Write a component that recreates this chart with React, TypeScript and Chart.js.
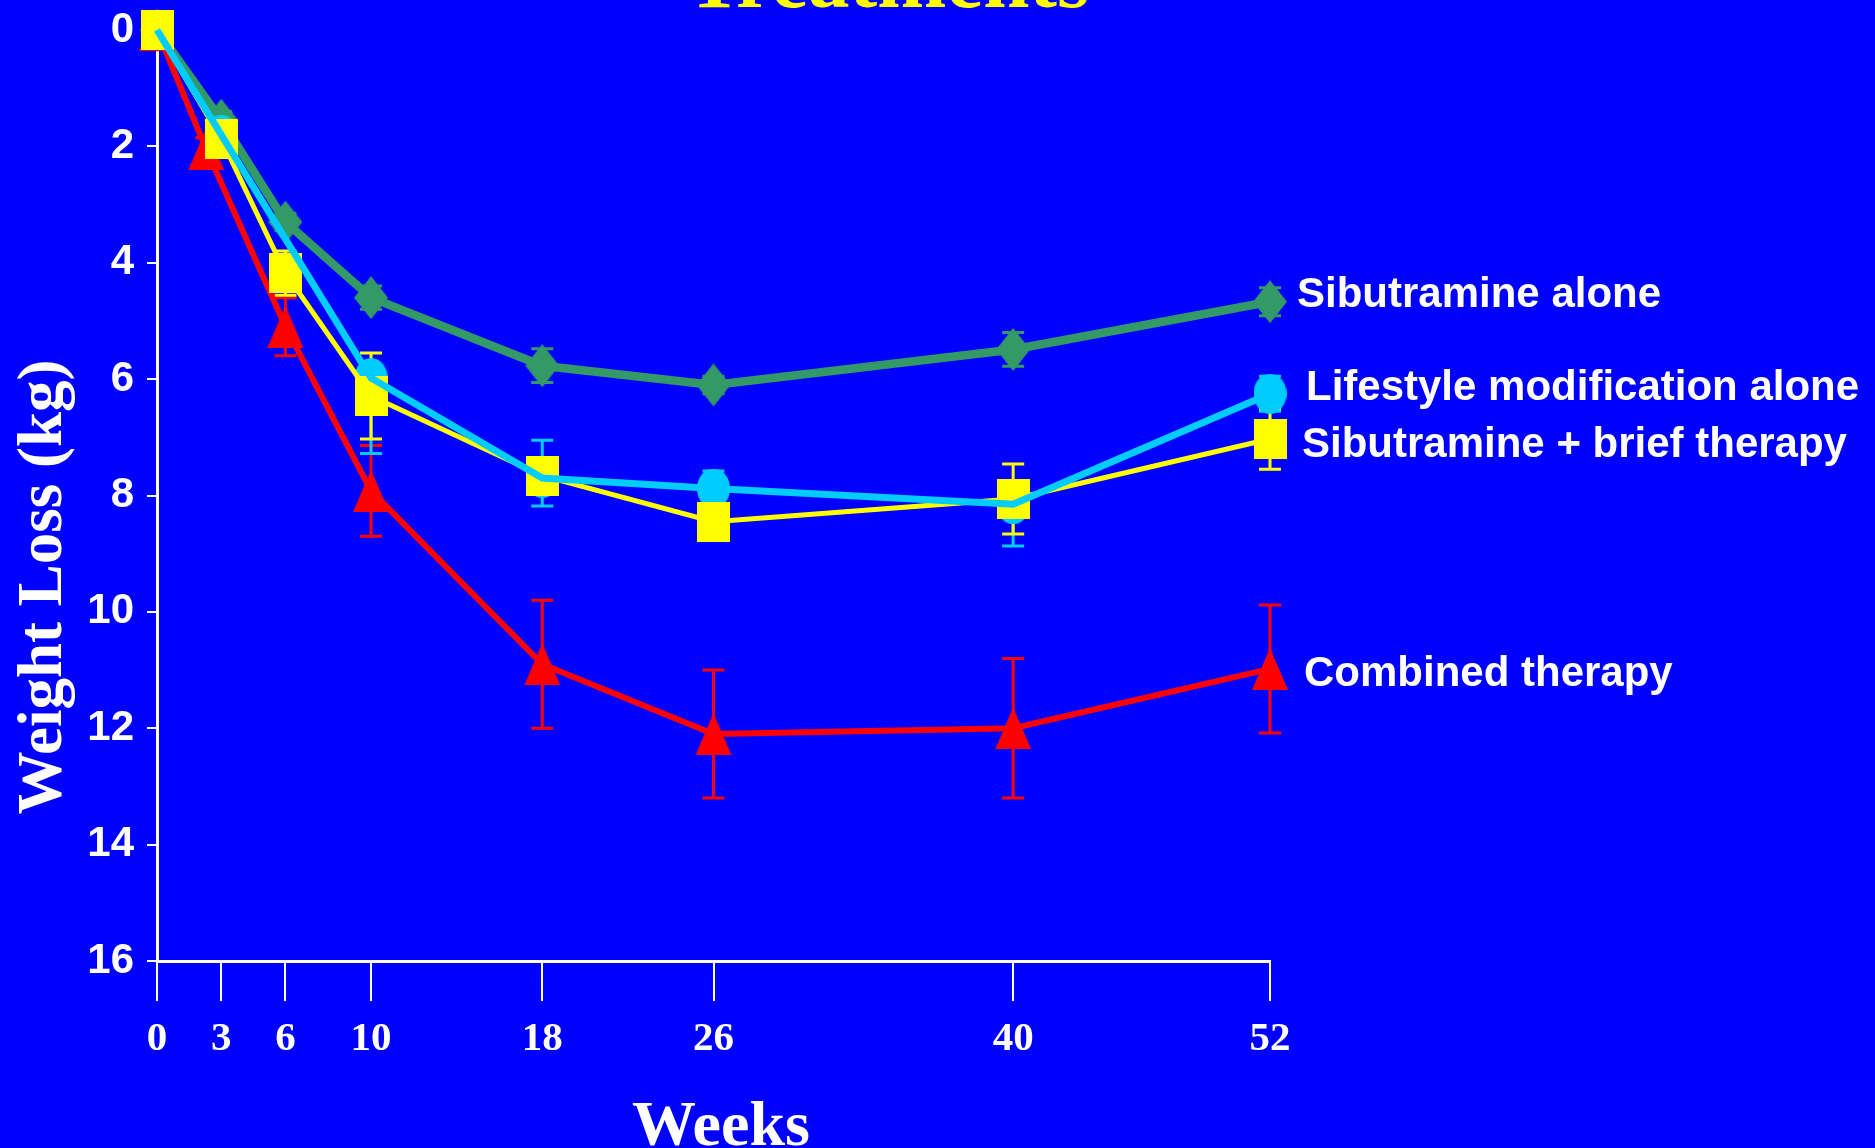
import React, { useEffect, useRef } from 'react';
import { Chart, registerables } from 'chart.js';

Chart.register(...registerables);

// ---- data ----
const weeks = [0, 3, 6, 10, 18, 26, 40, 52];
const combinedWeeks = [0, 2.3, 6, 10, 18, 26, 40, 52];
const yMin = 0;
const yMax = 16;
const yStep = 2;

const sibutramineAlone = [0, 1.55, 3.3, 4.6, 5.77, 6.1, 5.49, 4.67];
const sibutramineAloneErr = [0, 0.15, 0.15, 0.2, 0.29, 0.15, 0.29, 0.24];

const lifestyleAlone: (number | null)[] = [0, 1.8, null, 5.98, 7.7, 7.88, 8.15, 6.25];
const lifestyleAloneErrUp = [0, 0.2, 0, 0.2, 0.65, 0.3, 0.3, 0.3];
const lifestyleAloneErrDown = [0, 0.2, 0, 1.3, 0.48, 0.3, 0.72, 0.3];

const sibutramineBrief = [0, 1.87, 4.18, 6.29, 7.66, 8.45, 8.06, 7.03];
const sibutramineBriefErr = [0, 0.2, 0.38, 0.74, 0.3, 0.3, 0.6, 0.52];

const combinedTherapy = [0, 2.05, 5.1, 7.92, 10.9, 12.1, 12.0, 10.98];
const combinedTherapyErr = [0, 0.2, 0.5, 0.78, 1.1, 1.1, 1.2, 1.1];

const seriesNames = [
  'Sibutramine alone',
  'Lifestyle modification alone',
  'Sibutramine + brief therapy',
  'Combined therapy',
];

const titleText = 'Treatments';
const xTitle = 'Weeks';
const yTitle = 'Weight Loss (kg)';

// ---- styles ----
const BLUE = '#0000FF';
const GREEN = '#339966';
const CYAN = '#00CCFF';
const YELLOW = '#FFFF00';
const RED = '#FF0000';
const WHITE = '#FFFFFF';

function makeMarker(shape: string, color: string, w: number, h: number) {
  const c = document.createElement('canvas');
  c.width = w;
  c.height = h;
  const ctx = c.getContext('2d')!;
  ctx.fillStyle = color;
  ctx.beginPath();
  if (shape === 'rect') {
    ctx.rect(0, 0, w, h);
  } else if (shape === 'ellipse') {
    ctx.ellipse(w / 2, h / 2, w / 2, h / 2, 0, 0, Math.PI * 2);
  } else if (shape === 'diamond') {
    ctx.moveTo(w / 2, 0);
    ctx.lineTo(w, h / 2);
    ctx.lineTo(w / 2, h);
    ctx.lineTo(0, h / 2);
    ctx.closePath();
  } else if (shape === 'triangle') {
    ctx.moveTo(w / 2, 0);
    ctx.lineTo(w, h);
    ctx.lineTo(0, h);
    ctx.closePath();
  }
  ctx.fill();
  return c;
}

const toPoints = (xs: number[], ys: (number | null)[]) => xs.map((x, i) => ({ x, y: ys[i] }));

export default function App() {
  const ref = useRef<HTMLCanvasElement | null>(null);

  useEffect(() => {
    if (!ref.current) return;

    const errSeries = [
      { xs: weeks, ys: sibutramineAlone, up: sibutramineAloneErr, down: sibutramineAloneErr, color: GREEN },
      { xs: combinedWeeks, ys: combinedTherapy, up: combinedTherapyErr, down: combinedTherapyErr, color: RED },
      { xs: weeks, ys: lifestyleAlone, up: lifestyleAloneErrUp, down: lifestyleAloneErrDown, color: CYAN },
      { xs: weeks, ys: sibutramineBrief, up: sibutramineBriefErr, down: sibutramineBriefErr, color: YELLOW },
    ];

    const errorBarPlugin = {
      id: 'errorBars',
      beforeDatasetsDraw(chart: any) {
        const { ctx, scales } = chart;
        const xs = scales.x;
        const ys = scales.y;
        ctx.save();
        errSeries.forEach((s) => {
          ctx.strokeStyle = s.color;
          ctx.lineWidth = 3;
          s.xs.forEach((xv, i) => {
            const v = s.ys[i];
            const eu = s.up[i];
            const ed = s.down[i];
            if (v == null || (!eu && !ed)) return;
            const px = xs.getPixelForValue(xv);
            const top = ys.getPixelForValue(v - eu);
            const bot = ys.getPixelForValue(v + ed);
            ctx.beginPath();
            ctx.moveTo(px, top);
            ctx.lineTo(px, bot);
            ctx.moveTo(px - 11, top);
            ctx.lineTo(px + 11, top);
            ctx.moveTo(px - 11, bot);
            ctx.lineTo(px + 11, bot);
            ctx.stroke();
          });
        });
        ctx.restore();
      },
    };

    const labelOffsets = [
      { dx: 27, dy: 5 },
      { dx: 36, dy: 6 },
      { dx: 32, dy: 18 },
      { dx: 34, dy: 17 },
    ];
    const lastValues = [
      sibutramineAlone[sibutramineAlone.length - 1],
      lifestyleAlone[lifestyleAlone.length - 1] as number,
      sibutramineBrief[sibutramineBrief.length - 1],
      combinedTherapy[combinedTherapy.length - 1],
    ];

    const textPlugin = {
      id: 'texts',
      beforeDraw(chart: any) {
        const { ctx, width, height } = chart;
        ctx.save();
        ctx.fillStyle = BLUE;
        ctx.fillRect(0, 0, width, height);
        ctx.restore();
      },
      afterDraw(chart: any) {
        const { ctx, scales, chartArea } = chart;
        const xs = scales.x;
        const ys = scales.y;
        ctx.save();
        // main title (cut off at the top)
        ctx.fillStyle = YELLOW;
        ctx.font = 'bold 83px "Liberation Serif", "Times New Roman", serif';
        ctx.textAlign = 'center';
        ctx.textBaseline = 'alphabetic';
        ctx.fillText(titleText, 888, 7);

        // x title
        ctx.fillStyle = WHITE;
        ctx.font = 'bold 64px "Liberation Serif", "Times New Roman", serif';
        ctx.fillText(xTitle, 721, chartArea.bottom + 184);

        // y title
        ctx.save();
        ctx.translate(45, 587);
        ctx.rotate(-Math.PI / 2);
        ctx.font = 'bold 63px "Liberation Serif", "Times New Roman", serif';
        ctx.textBaseline = 'middle';
        ctx.fillText(yTitle, 0, 0);
        ctx.restore();

        // series labels
        ctx.font = 'bold 42px "Liberation Sans", Arial, sans-serif';
        ctx.textAlign = 'left';
        ctx.textBaseline = 'alphabetic';
        seriesNames.forEach((name, i) => {
          const px = xs.getPixelForValue(weeks[weeks.length - 1]) + labelOffsets[i].dx;
          const py = ys.getPixelForValue(lastValues[i]) + labelOffsets[i].dy;
          ctx.fillText(name, px, py);
        });
        ctx.restore();
      },
    };

    const square = makeMarker('rect', YELLOW, 33, 40);
    const circle = makeMarker('ellipse', CYAN, 33, 40);
    const diamond = makeMarker('diamond', GREEN, 34, 43);
    const triangle = makeMarker('triangle', RED, 36, 42);

    const chart = new Chart(ref.current, {
      type: 'line',
      data: {
        datasets: [
          {
            label: seriesNames[1] + ' line',
            data: toPoints(weeks, lifestyleAlone),
            borderColor: CYAN,
            borderWidth: 7,
            pointRadius: 0,
            spanGaps: true,
            fill: false,
            clip: false as any,
          },
          {
            label: seriesNames[2],
            data: toPoints(weeks, sibutramineBrief),
            borderColor: YELLOW,
            backgroundColor: YELLOW,
            borderWidth: 5,
            pointStyle: square as any,
            pointRadius: 20,
            fill: false,
            clip: false as any,
          },
          {
            label: seriesNames[1],
            data: toPoints(weeks, lifestyleAlone),
            borderColor: CYAN,
            backgroundColor: CYAN,
            showLine: false,
            pointStyle: circle as any,
            pointRadius: 20,
            clip: false as any,
          },
          {
            label: seriesNames[3],
            data: toPoints(combinedWeeks, combinedTherapy),
            borderColor: RED,
            backgroundColor: RED,
            borderWidth: 6,
            pointStyle: triangle as any,
            pointRadius: 20,
            fill: false,
            clip: false as any,
          },
          {
            label: seriesNames[0],
            data: toPoints(weeks, sibutramineAlone),
            borderColor: GREEN,
            backgroundColor: GREEN,
            borderWidth: 8.5,
            pointStyle: diamond as any,
            pointRadius: 20,
            fill: false,
            clip: false as any,
          },
        ],
      },
      options: {
        animation: false,
        responsive: false,
        devicePixelRatio: 1,
        events: [],
        layout: { padding: { left: 0, top: 30, right: 605, bottom: 0 } },
        plugins: {
          legend: { display: false },
          tooltip: { enabled: false },
          title: { display: false },
        },
        elements: { line: { tension: 0 } },
        scales: {
          x: {
            type: 'linear',
            min: weeks[0],
            max: weeks[weeks.length - 1],
            afterBuildTicks: (scale: any) => {
              scale.ticks = weeks.map((v) => ({ value: v }));
            },
            afterFit: (scale: any) => {
              scale.height = 187;
              scale.paddingLeft = 0;
              scale.paddingRight = 0;
            },
            ticks: {
              autoSkip: false,
              maxRotation: 0,
              color: WHITE,
              padding: 14,
              font: { family: '"Liberation Serif", "Times New Roman", serif', size: 41, weight: 'bold' },
            },
            grid: {
              display: true,
              drawOnChartArea: false,
              drawTicks: true,
              tickLength: 40,
              color: WHITE,
              lineWidth: 2,
            },
            border: { display: true, color: WHITE, width: 3 },
          },
          y: {
            type: 'linear',
            reverse: true,
            min: yMin,
            max: yMax,
            afterFit: (scale: any) => {
              scale.width = 157;
              scale.paddingTop = 0;
              scale.paddingBottom = 0;
            },
            ticks: {
              stepSize: yStep,
              color: WHITE,
              padding: 13,
              font: { family: '"Liberation Sans", Arial, sans-serif', size: 42, weight: 'bold' },
            },
            grid: {
              display: true,
              drawOnChartArea: false,
              drawTicks: true,
              tickLength: 10,
              color: WHITE,
              lineWidth: 2,
            },
            border: { display: true, color: WHITE, width: 3 },
          },
        },
      } as any,
      plugins: [errorBarPlugin, textPlugin],
    });

    return () => chart.destroy();
  }, []);

  return (
    <div
      style={{
        position: 'absolute',
        left: 0,
        top: 0,
        width: 1875,
        height: 1148,
        background: BLUE,
        overflow: 'hidden',
      }}
    >
      <canvas ref={ref} width={1875} height={1148} style={{ display: 'block' }} />
    </div>
  );
}
